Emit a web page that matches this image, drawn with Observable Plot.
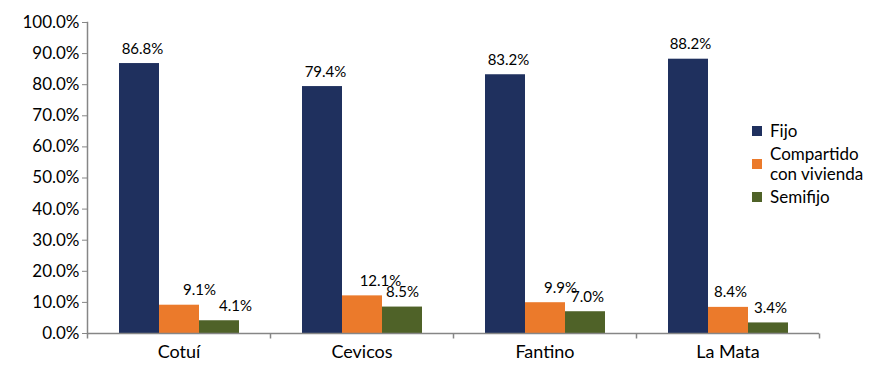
<!DOCTYPE html>
<html>
<head>
<meta charset="utf-8">
<script src="https://cdn.jsdelivr.net/npm/d3@7"></script>
<script src="https://cdn.jsdelivr.net/npm/@observablehq/plot@0.6"></script>
<style>
  body { margin: 0; background: #fff; font-family: Lato, "Open Sans", sans-serif; }
  #wrap { position: relative; width: 880px; height: 368px; }
  #legend { position: absolute; left: 752px; top: 121px; font-size: 17px; color: #000; line-height: 20px; }
  .item { display: flex; align-items: center; margin-bottom: 3px; }
  .sw { width: 10px; height: 10px; margin-right: 8px; flex: none; }
</style>
</head>
<body>
<div id="wrap"><div id="legend"></div></div>
<script>
const categories = ["Cotuí", "Cevicos", "Fantino", "La Mata"];
const series = ["Fijo", "Compartido con vivienda", "Semifijo"];
const legendLabels = ["Fijo", "Compartido<br>con vivienda", "Semifijo"];
const fijo = [86.8, 79.4, 83.2, 88.2];
const compartido = [9.1, 12.1, 9.9, 8.4];
const semifijo = [4.1, 8.5, 7.0, 3.4];
const yTicks = [0, 10, 20, 30, 40, 50, 60, 70, 80, 90, 100];
const colors = ["#1f305e", "#eb7a2b", "#4f6228"];
// label nudges (px) per category for [Fijo, Compartido, Semifijo]
const labelNudge = [[3, 20, 16], [3, 18, 0], [3, 15, 2], [2, 2, 2]];

const values = [fijo, compartido, semifijo];
const data = categories.flatMap((c, i) =>
  series.map((s, j) => ({cat: c, series: s, value: values[j][i], nudge: labelNudge[i][j]})));

const axisGray = "#868686";
const vtick = {draw(ctx) { ctx.moveTo(0, 0); ctx.lineTo(0, 5); }};
const nudges = Array.from(new Set(data.map(d => d.nudge)));

const chart = Plot.plot({
  width: 880,
  height: 368,
  marginLeft: 86,
  marginRight: 60,
  marginTop: 22,
  marginBottom: 35,
  style: {fontFamily: "Lato, 'Open Sans', sans-serif", color: "#000", background: "#fff"},
  fx: {domain: categories, padding: 0, label: null},
  x: {domain: series, axis: null, paddingInner: 0, paddingOuter: 0.74},
  y: {domain: [0, 100], axis: null},
  color: {domain: series, range: colors},
  marks: [
    Plot.axisY({ticks: yTicks, tickFormat: d => d.toFixed(1) + "%", tickSize: 5, tickPadding: 3,
      fontSize: 17, stroke: axisGray, fill: "#000", label: null}),
    Plot.axisFx({anchor: "bottom", tickSize: 0, tickPadding: 12, fontSize: 18, fill: "#000", label: null}),
    Plot.barY(data, {fx: "cat", x: "series", y: "value", fill: "series"}),
    Plot.frame({anchor: "left", stroke: axisGray, strokeWidth: 1.5, facetAnchor: "left"}),
    Plot.ruleY([0], {stroke: axisGray, strokeWidth: 1.5}),
    Plot.dot(categories, {fx: d => d, frameAnchor: "bottom-left", symbol: vtick, stroke: axisGray, strokeWidth: 1.5}),
    Plot.dot([categories[categories.length - 1]], {fx: d => d, frameAnchor: "bottom-right", symbol: vtick, stroke: axisGray, strokeWidth: 1.5}),
    ...nudges.map(n => Plot.text(data.filter(d => d.nudge === n), {
      fx: "cat", x: "series", y: "value", text: d => d.value.toFixed(1) + "%",
      dx: n, dy: -10, lineAnchor: "bottom", fontSize: 15, fill: "#000"
    }))
  ]
});
const wrap = document.getElementById("wrap");
wrap.insertBefore(chart, wrap.firstChild);

const legend = document.getElementById("legend");
series.forEach((s, i) => {
  const item = document.createElement("div");
  item.className = "item";
  item.innerHTML = `<div class="sw" style="background:${colors[i]}"></div><div>${legendLabels[i]}</div>`;
  legend.appendChild(item);
});
</script>
</body>
</html>
